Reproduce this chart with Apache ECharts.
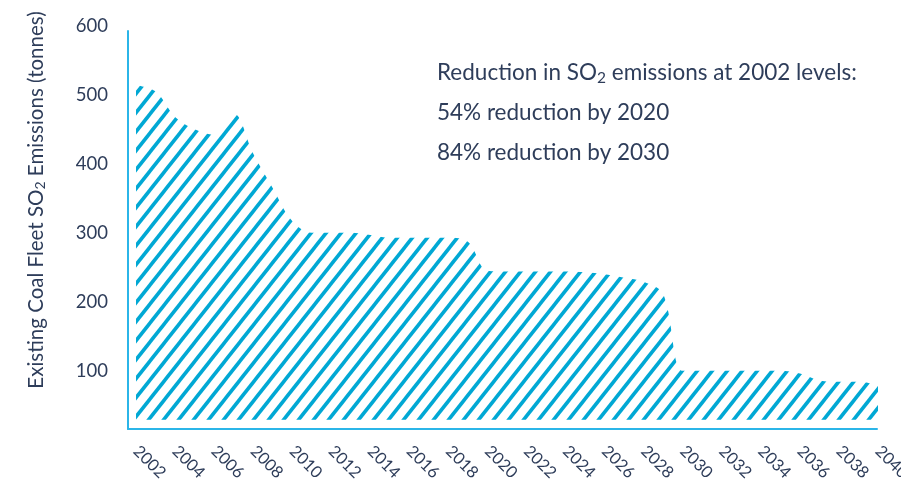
<!DOCTYPE html>
<html>
<head>
<meta charset="utf-8">
<script src="https://cdn.jsdelivr.net/npm/echarts@6/dist/echarts.min.js"></script>
<style>
  html, body { margin: 0; padding: 0; background: #ffffff; }
  #chart { width: 901px; height: 479px; }
</style>
</head>
<body>
<div id="chart"></div>
<script>
// Existing coal fleet SO2 emissions, tonnes per year
const years = [
  '2002','2003','2004','2005','2006','2007','2008','2009','2010','2011',
  '2012','2013','2014','2015','2016','2017','2018','2019','2020','2021',
  '2022','2023','2024','2025','2026','2027','2028','2029','2030','2031',
  '2032','2033','2034','2035','2036','2037','2038','2039','2040'
];
const emissions = [
  515, 506, 469, 451, 443, 474, 416, 366, 318, 301,
  301, 301, 298, 294, 294, 294, 294, 288, 246, 245,
  245, 245, 245, 244, 241, 236, 230, 212, 101, 101,
  101, 101, 101, 101, 97, 87, 85, 85, 80
];
const areaBase = 30;

const yTitle = 'Existing Coal Fleet SO{sub|2} Emissions (tonnes)';
const notes = [
  'Reduction in SO{sub|2} emissions at 2002 levels:',
  '54% reduction by 2020',
  '84% reduction by 2030'
];

const TEXT = '#2e3d5a';
const HATCH = '#00a8d4';
const AXIS = '#2bb5e8';
const FONT = 'Lato, "Open Sans", sans-serif';

// Diagonal "/" hatch tile that repeats seamlessly
function hatchPattern(color) {
  const w = 15, h = 19;
  const c = document.createElement('canvas');
  c.width = w; c.height = h;
  const ctx = c.getContext('2d');
  ctx.strokeStyle = color;
  ctx.lineWidth = 3.6;
  for (let k = -1; k <= 1; k++) {
    ctx.beginPath();
    ctx.moveTo(k * w - w, 2 * h);
    ctx.lineTo(k * w + 2 * w, -h);
    ctx.stroke();
  }
  return { image: c, repeat: 'repeat' };
}

const chart = echarts.init(document.getElementById('chart'), null, { renderer: 'canvas' });

chart.setOption({
  animation: false,
  backgroundColor: '#ffffff',
  grid: [
    { left: 136, right: 23, top: 26.5, bottom: 38.5, containLabel: false, outerBoundsMode: 'none' },
    { left: 128, right: 24, top: 31, bottom: 50, containLabel: false, outerBoundsMode: 'none' }
  ],
  xAxis: [
    {
      gridIndex: 0,
      type: 'category',
      data: years,
      boundaryGap: false,
      axisLine: { show: false },
      axisTick: { show: false },
      splitLine: { show: false },
      axisLabel: {
        interval: 1,
        rotate: -45,
        margin: 8,
        color: TEXT,
        fontSize: 16.5,
        fontFamily: FONT
      }
    },
    {
      gridIndex: 1,
      type: 'value',
      min: 0, max: 1,
      axisLine: { show: true, onZero: false, lineStyle: { color: AXIS, width: 2 } },
      axisTick: { show: false },
      axisLabel: { show: false },
      splitLine: { show: false }
    }
  ],
  yAxis: [
    {
      gridIndex: 0,
      type: 'value',
      min: 0, max: 600, interval: 100,
      axisLine: { show: false },
      axisTick: { show: false },
      splitLine: { show: false },
      axisLabel: {
        showMinLabel: false,
        margin: 28,
        color: TEXT,
        fontSize: 18.5,
        fontFamily: FONT
      }
    },
    {
      gridIndex: 1,
      type: 'value',
      min: 0, max: 1,
      axisLine: { show: true, onZero: false, lineStyle: { color: AXIS, width: 2 } },
      axisTick: { show: false },
      axisLabel: { show: false },
      splitLine: { show: false }
    }
  ],
  series: [
    {
      type: 'line',
      xAxisIndex: 0,
      yAxisIndex: 0,
      data: emissions,
      smooth: 0.35,
      showSymbol: false,
      symbol: 'none',
      silent: true,
      lineStyle: { width: 0 },
      areaStyle: { color: hatchPattern(HATCH), opacity: 1, origin: areaBase }
    }
  ],
  graphic: [
    {
      type: 'text',
      x: 36,
      y: 200,
      rotation: Math.PI / 2,
      style: {
        text: yTitle,
        fill: TEXT,
        fontSize: 20.5,
        fontFamily: FONT,
        align: 'center',
        verticalAlign: 'middle',
        rich: {
          sub: { fontSize: 14, fontFamily: FONT, fill: TEXT, padding: [9, 0, 0, 0] }
        }
      }
    }
  ].concat(notes.map((t, i) => ({
    type: 'text',
    x: 437,
    y: 73 + i * 40,
    style: {
      text: t,
      fill: TEXT,
      fontSize: 22.5,
      fontFamily: FONT,
      align: 'left',
      verticalAlign: 'middle',
      rich: {
        sub: { fontSize: 15.5, fontFamily: FONT, fill: TEXT, padding: [10, 0, 0, 0] }
      }
    }
  })))
});
</script>
</body>
</html>
